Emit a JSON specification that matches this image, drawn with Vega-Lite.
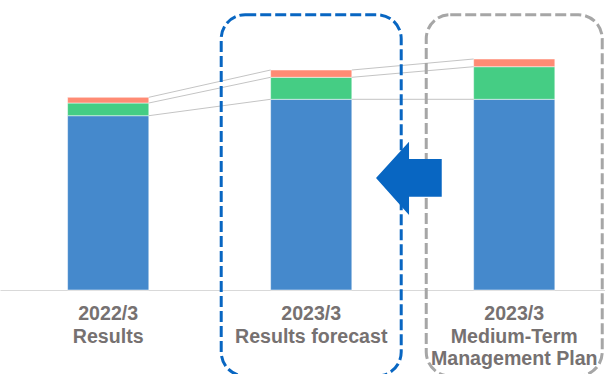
{
  "$schema": "https://vega.github.io/schema/vega-lite/v6.json",
  "width": 605,
  "height": 290,
  "autosize": {"type": "none"},
  "padding": {"left": 0, "top": 0, "right": 0, "bottom": 84},
  "background": "#ffffff",
  "config": {
    "view": {"stroke": null},
    "axisX": {
      "domainColor": "#D9D9D9",
      "domainWidth": 1,
      "ticks": false,
      "grid": false,
      "labelFont": "Liberation Sans",
      "labelFontSize": 19.6,
      "labelFontWeight": "bold",
      "labelColor": "#767171",
      "labelPadding": 14.5,
      "labelLineHeight": 22.7,
      "labelLimit": 400,
      "labelAngle": 0
    }
  },
  "data": {
    "values": [
      {"period": "2022/3|Results", "idx": 1, "segment": "Segment 1", "sidx": 1, "value": 174.3},
      {"period": "2022/3|Results", "idx": 1, "segment": "Segment 2", "sidx": 2, "value": 12.7},
      {"period": "2022/3|Results", "idx": 1, "segment": "Segment 3", "sidx": 3, "value": 5.7},
      {"period": "2023/3|Results forecast", "idx": 2, "segment": "Segment 1", "sidx": 1, "value": 190.7},
      {"period": "2023/3|Results forecast", "idx": 2, "segment": "Segment 2", "sidx": 2, "value": 22.0},
      {"period": "2023/3|Results forecast", "idx": 2, "segment": "Segment 3", "sidx": 3, "value": 7.3},
      {"period": "2023/3|Medium-Term|Management Plan", "idx": 3, "segment": "Segment 1", "sidx": 1, "value": 190.7},
      {"period": "2023/3|Medium-Term|Management Plan", "idx": 3, "segment": "Segment 2", "sidx": 2, "value": 32.6},
      {"period": "2023/3|Medium-Term|Management Plan", "idx": 3, "segment": "Segment 3", "sidx": 3, "value": 7.7}
    ]
  },
  "transform": [
    {"stack": "value", "groupby": ["period"], "sort": [{"field": "sidx", "order": "ascending"}], "as": ["v0", "v1"]}
  ],
  "layer": [
    {
      "mark": {"type": "bar", "stroke": "#ffffff", "strokeWidth": 0.5},
      "encoding": {
        "x": {
          "field": "period",
          "type": "nominal",
          "title": null,
          "scale": {
            "domain": ["2022/3|Results", "2023/3|Results forecast", "2023/3|Medium-Term|Management Plan"],
            "paddingInner": 0.6,
            "paddingOuter": 0.29,
            "align": 0.574
          },
          "axis": {"labelExpr": "split(datum.label, '|')"}
        },
        "y": {"field": "v1", "type": "quantitative", "scale": {"domain": [0, 290], "nice": false, "zero": false}, "axis": null},
        "y2": {"field": "v0"},
        "color": {
          "field": "segment",
          "type": "nominal",
          "scale": {"domain": ["Segment 1", "Segment 2", "Segment 3"], "range": ["#4589CC", "#45CD84", "#FF8B74"]},
          "legend": null
        }
      }
    },
    {
      "transform": [
        {"window": [{"op": "lead", "field": "v1", "as": "nv1"}, {"op": "lead", "field": "period", "as": "nperiod"}], "groupby": ["segment"], "sort": [{"field": "idx", "order": "ascending"}]},
        {"filter": "datum.nperiod != null"}
      ],
      "mark": {"type": "rule", "color": "#C4C4C4", "strokeWidth": 1},
      "encoding": {
        "x": {"field": "period", "type": "nominal", "bandPosition": 1, "title": null},
        "x2": {"field": "nperiod", "bandPosition": 0},
        "y": {"field": "v1", "type": "quantitative", "axis": null},
        "y2": {"field": "nv1"}
      }
    },
    {
      "data": {"values": [{}]},
      "mark": {"type": "bar", "width": 180, "fillOpacity": 0, "fill": "#ffffff", "stroke": "#0866C2", "strokeWidth": 3, "strokeDash": [11, 4], "cornerRadius": 24, "clip": false},
      "encoding": {
        "x": {"datum": "2023/3|Results forecast", "type": "nominal", "title": null},
        "y": {"datum": 275.3, "type": "quantitative", "axis": null},
        "y2": {"datum": -86}
      }
    },
    {
      "data": {"values": [{}]},
      "mark": {"type": "bar", "width": 176, "fillOpacity": 0, "fill": "#ffffff", "stroke": "#A6A6A6", "strokeWidth": 3, "strokeDash": [11, 4], "cornerRadius": 24, "clip": false},
      "encoding": {
        "x": {"datum": "2023/3|Medium-Term|Management Plan", "type": "nominal", "title": null},
        "y": {"datum": 275.3, "type": "quantitative", "axis": null},
        "y2": {"datum": -86}
      }
    },
    {
      "data": {"values": [{}]},
      "mark": {
        "type": "point",
        "shape": "M -0.892 0 L 0 -0.98 L 0 -0.514 L 0.884 -0.514 L 0.884 0.505 L 0 0.505 L 0 1 Z",
        "size": 5476,
        "filled": true,
        "fill": "#0866C2",
        "opacity": 1,
        "strokeWidth": 0,
        "xOffset": -64.6
      },
      "encoding": {
        "x": {"datum": "2023/3|Medium-Term|Management Plan", "type": "nominal", "bandPosition": 0, "title": null},
        "y": {"datum": 112, "type": "quantitative", "axis": null}
      }
    }
  ]
}
